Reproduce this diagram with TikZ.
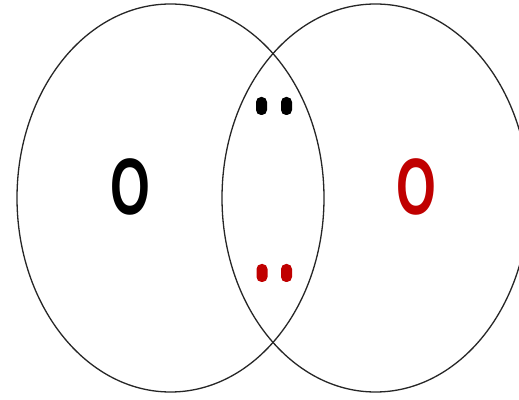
\documentclass[tikz,border=0pt]{standalone}
\usepackage{fontspec}
\usepackage{graphicx}
\setmainfont{Liberation Sans}
\usetikzlibrary{shapes.geometric}
\definecolor{oxred}{RGB}{192,0,0}
\tikzset{
  shell/.style={draw=black!85, line width=1.3pt},
  elec/.style={rectangle, rounded corners=5pt, fill, draw=none, inner sep=0pt, minimum width=11pt, minimum height=18pt},
  atom/.style={inner sep=0pt, font=\fontsize{80}{80}\selectfont\bfseries}
}
\begin{document}
\begin{tikzpicture}[x=1pt,y=1pt]
\useasboundingbox (0,0) rectangle (519,399);
\clip (0,0) rectangle (519,399);
\fill[white] (0,0) rectangle (519,399);
\coordinate (cl) at (170.5,201);
\coordinate (cr) at (375.5,201);
\draw[shell] (cl) ellipse [x radius=153.5, y radius=194];
\draw[shell] (cr) ellipse [x radius=153.5, y radius=194];
\node[atom] (o1) at (130.5,212) {\scalebox{0.64}[1]{O}};
\node[atom, text=oxred] (o2) at (416.5,212) {\scalebox{0.64}[1]{O}};
\node[elec, fill=black] (b1) at (261.5,293) {};
\node[elec, fill=black] (b2) at (286.5,293) {};
\node[elec, fill=oxred] (r1) at (262,126) {};
\node[elec, fill=oxred] (r2) at (286.5,126) {};
\end{tikzpicture}
\end{document}
